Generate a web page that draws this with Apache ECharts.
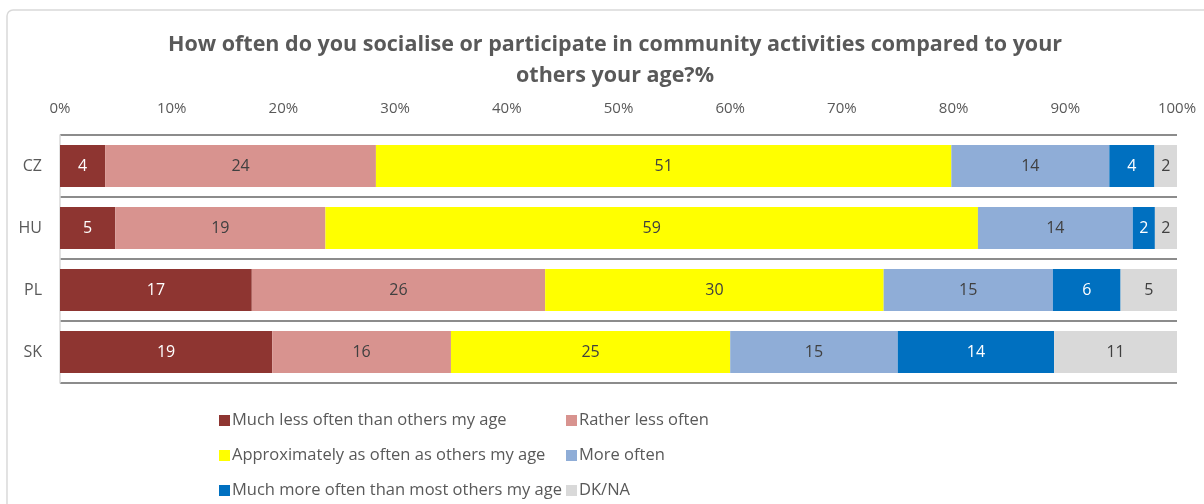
<!DOCTYPE html>
<html>
<head>
<meta charset="utf-8">
<script src="https://cdn.jsdelivr.net/npm/echarts@6/dist/echarts.min.js"></script>
<style>
  html, body { margin: 0; padding: 0; background: #ffffff; }
  #chart { width: 1204px; height: 504px; }
</style>
</head>
<body>
<div id="chart"></div>
<script>
// Countries (top to bottom)
const countries = ['CZ', 'HU', 'PL', 'SK'];

// Answer categories
const answers = [
  'Much less often than others my age',
  'Rather less often',
  'Approximately as often as others my age',
  'More often',
  'Much more often than most others my age',
  'DK/NA'
];

// Share of respondents per answer, in %, for CZ, HU, PL, SK
const muchLess   = [4, 5, 17, 19];
const ratherLess = [24, 19, 26, 16];
const approxSame = [51, 59, 30, 25];
const moreOften  = [14, 14, 15, 15];
const muchMore   = [4, 2, 6, 14];
const dkNa       = [2, 2, 5, 11];

const xTicks = [0, 10, 20, 30, 40, 50, 60, 70, 80, 90, 100];

const seriesValues = [muchLess, ratherLess, approxSame, moreOften, muchMore, dkNa];
const colors = ['#8E3531', '#D8938F', '#FFFF00', '#8FADD7', '#0070C0', '#D9D9D9'];
const labelColors = ['#ffffff', '#404040', '#404040', '#404040', '#ffffff', '#404040'];

const FONT = '"Open Sans", "Noto Sans", sans-serif';
const GREY = '#595959';

// Each bar is scaled to a 100% total; labels show the reported values
const totals = countries.map((_, i) => seriesValues.reduce((s, arr) => s + arr[i], 0));

const series = answers.map((name, k) => ({
  name: name,
  type: 'bar',
  stack: 'total',
  barWidth: 42,
  itemStyle: { color: colors[k] },
  label: {
    show: true,
    position: 'inside',
    color: labelColors[k],
    fontFamily: FONT,
    fontSize: 16,
    formatter: p => String(seriesValues[k][p.dataIndex])
  },
  emphasis: { disabled: true },
  data: seriesValues[k].map((v, i) => v / totals[i] * 100)
}));

const chart = echarts.init(document.getElementById('chart'), null, { renderer: 'canvas' });

const legendBase = {
  orient: 'vertical',
  top: 407,
  itemGap: 18,
  itemWidth: 11,
  itemHeight: 11,
  icon: 'rect',
  textStyle: { fontFamily: FONT, fontSize: 16.5, color: GREY, padding: [0, 0, 0, -3] }
};

chart.setOption({
  animation: false,
  backgroundColor: '#ffffff',
  textStyle: { fontFamily: FONT },
  graphic: [{
    type: 'rect',
    shape: { x: 7, y: 10, width: 1230, height: 530, r: 6 },
    style: { fill: 'none', stroke: '#D9D9D9', lineWidth: 1.5 },
    silent: true
  }],
  title: {
    text: 'How often do you socialise or participate in community activities compared to your\nothers your age?%',
    left: 610,
    top: 24,
    textAlign: 'center',
    textStyle: {
      fontFamily: FONT,
      fontSize: 21.5,
      fontWeight: 'bold',
      color: GREY,
      lineHeight: 31
    }
  },
  legend: [
    Object.assign({ left: 214, data: [answers[0], answers[2], answers[4]] }, legendBase),
    Object.assign({ left: 561, data: [answers[1], answers[3], answers[5]] }, legendBase)
  ],
  grid: { left: 60, right: 27, top: 135, height: 248, containLabel: false },
  xAxis: {
    type: 'value',
    position: 'top',
    min: 0,
    max: 100,
    interval: 10,
    axisLine: { show: false },
    axisTick: { show: false },
    splitLine: { show: false },
    axisLabel: {
      color: GREY,
      fontFamily: FONT,
      fontSize: 15,
      margin: 19,
      showMinLabel: true,
      showMaxLabel: true,
      formatter: v => (xTicks.includes(v) ? v + '%' : '')
    }
  },
  yAxis: {
    type: 'category',
    inverse: true,
    data: countries,
    axisLine: { show: true, lineStyle: { color: '#D9D9D9', width: 1.5 } },
    axisTick: { show: false },
    splitLine: { show: true, lineStyle: { color: '#8C8C8C', width: 2 } },
    axisLabel: { color: GREY, fontFamily: FONT, fontSize: 16, margin: 18 }
  },
  series: series
});
</script>
</body>
</html>
